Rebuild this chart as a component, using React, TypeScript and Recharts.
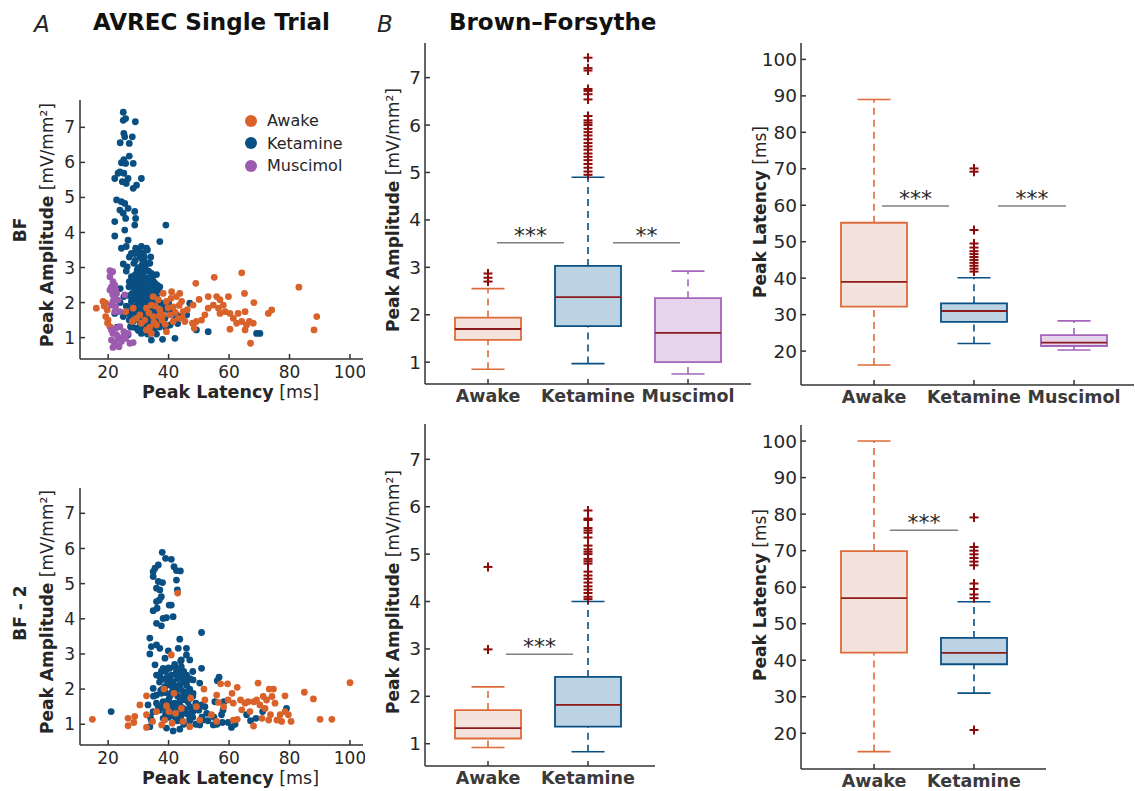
import React from "react"
import {
  ScatterChart,
  Scatter,
  XAxis,
  YAxis,
  ReferenceArea,
  ReferenceLine,
} from "recharts"

const FONT = '"DejaVu Sans", sans-serif'
const TEXT = "#262626"
const AXIS = { stroke: "#333333", strokeWidth: 1.5 }

const AWAKE = "#D9622B"
const KETAMINE = "#0A4F82"
const MUSCIMOL = "#9C5BAF"
const MEDIAN = "#8E1B1B"
const OUTLIER = "#8B0A0A"
const SIG_LINE = "#808080"

// ---- scatter data: [latency ms, amplitude mV/mm²] ----
const bfKetamine = [
  [25, 7.43], [25.8, 7.25], [25, 7.2], [29, 7.16], [25.2, 6.83], [25.5, 6.73], [28, 6.73], [24, 6.56], [27, 6.54],
  [27, 6.18], [25.2, 6.08], [24.4, 5.99], [25.8, 5.97], [28.3, 5.97], [23.9, 5.73], [23.3, 5.69], [22.2, 5.54],
  [25.2, 5.69], [26.6, 5.54], [31, 5.54], [28.3, 5.26], [29.4, 5.35], [26, 5.4], [24.7, 5.45], [22.8, 4.93],
  [24.4, 4.88], [25.5, 4.83], [26.6, 4.69], [23.9, 4.64], [25, 4.55], [25.8, 4.4], [22.2, 4.31], [28.8, 4.6],
  [29.1, 4.4], [39.1, 4.21], [28.8, 4.21], [25.5, 4.07], [22.2, 3.9], [26.6, 3.78], [24.4, 3.55], [29.1, 3.55],
  [37.1, 3.74], [31, 3.6], [32.7, 3.55], [27.7, 3.4], [30.5, 3.31], [31.4, 3.21], [28.5, 3.12], [33.2, 3.12],
  [26.3, 3.02], [29.6, 2.93], [32.1, 2.88], [34.3, 2.83], [27.7, 2.74], [30.3, 2.64], [32.7, 2.6], [35.5, 2.55],
  [26.9, 2.45], [29.3, 2.44], [31.6, 2.36], [33.8, 2.41], [36.6, 2.36], [28, 2.26], [30.5, 2.22], [32.9, 2.17],
  [35.1, 2.26], [37.1, 2.45], [25.2, 2.17], [27.7, 2.03], [29.9, 1.98], [32.1, 1.93], [34.6, 2.03], [37.7, 1.98],
  [29.4, 1.79], [32.7, 1.74], [35.9, 1.69], [27.2, 1.65], [31, 1.55], [34.3, 1.5], [38.8, 1.55], [42.6, 1.65],
  [28.3, 1.46], [32.7, 1.36], [29.4, 1.27], [35.5, 1.27], [39.1, 1.27], [31, 1.12], [34.3, 0.93], [38, 0.95],
  [42.1, 0.98], [49.2, 1.22], [53.1, 1.17], [47, 1.98], [69.1, 1.12], [70.2, 1.12], [25.8, 1.71], [22.2, 1.69],
  [26.6, 1.08], [27.4, 1.31], [39.9, 1.79], [46, 1.65], [40.5, 1.36], [33.8, 3.12], [31.6, 3.4], [28.8, 3.4],
  [28, 2.64], [36, 2.08], [34.9, 1.79], [33.2, 1.6], [30.5, 1.6], [26, 2.9], [27, 2.6], [28, 2.5], [29, 2.8],
  [30, 2.7], [31, 2.9], [32, 3.0], [33, 2.7], [34, 2.5], [30, 2.4], [31, 2.5], [32, 2.3], [33, 2.2], [34, 2.3],
  [35, 2.2], [29, 2.1], [30, 2.0], [31, 2.1], [32, 2.0], [33, 1.9], [34, 1.8], [36, 2.2], [37, 2.0], [28, 1.9],
  [29, 1.7], [30, 1.8], [31, 1.6], [32, 1.5], [33, 1.4], [35, 1.4], [36, 1.5], [37, 1.6], [38, 1.8], [27, 1.5],
  [28, 1.3], [30, 1.2], [31, 1.3], [33, 1.1], [34, 1.2], [36, 1.1], [37, 1.3], [26, 1.9], [27, 2.2], [28, 2.1],
  [29, 2.3], [30, 2.2], [31, 2.35], [32, 2.6], [33, 2.45], [35, 2.6], [36, 2.8], [29, 3.2], [30, 3.0], [31, 3.4],
  [32, 3.3], [33, 3.5], [27, 3.3], [26, 3.6], [25, 3.1], [24, 2.4], [24, 2.0], [25, 1.6], [23, 1.3], [39, 1.9],
  [40, 2.0], [41, 1.7], [42, 1.5], [43, 1.4], [44, 1.6], [30.8, 2.82], [31.8, 2.72], [32.4, 2.95], [33.6, 2.62],
  [34.6, 2.7], [30.2, 2.55], [31.3, 2.62], [32.8, 2.38], [33.9, 2.14], [35.3, 2.38], [36.2, 2.5], [29.6, 2.58],
  [30.9, 2.28], [31.9, 2.15], [32.5, 1.84], [33.7, 2.0], [34.9, 2.1], [35.8, 1.92], [30.4, 1.92], [31.5, 1.86],
  [29.2, 1.55], [30.6, 1.43], [31.8, 1.72], [33.1, 1.25], [34.2, 1.62], [35.4, 1.55], [36.8, 1.42], [38.2, 1.38],
  [27.8, 1.78], [28.7, 2.35], [29.8, 2.46], [31.1, 3.05], [32.2, 3.15], [33.4, 2.9], [34.1, 3.3], [30.1, 3.45],
]

const bfAwake = [
  [16.1, 1.84], [18.3, 2.03], [19.2, 1.98], [19.7, 1.79], [19.2, 1.6], [20, 1.5], [20.6, 1.31], [25.8, 1.74],
  [28.3, 1.84], [29.4, 1.55], [28, 1.46], [30.5, 1.65], [32.1, 1.5], [32.7, 1.84], [34.3, 1.93], [34.9, 2.17],
  [36.6, 2.08], [37.1, 1.79], [38.2, 2.26], [39.3, 2.03], [41, 2.31], [41.5, 1.88], [42.6, 2.17], [43.7, 2.26],
  [44.3, 2.03], [44.8, 1.74], [43.2, 1.55], [45.4, 1.46], [41.5, 1.46], [36, 1.36], [34.3, 1.12], [39.3, 1.17],
  [40.4, 1.65], [38.2, 1.65], [34.9, 1.6], [32.7, 1.22], [31, 1.41], [48.1, 1.93], [49, 2.55], [50.1, 2.09],
  [47.9, 1.41], [49.2, 1.46], [50.9, 1.5], [52, 1.65], [53.1, 2.17], [53.1, 1.84], [54.8, 1.93], [55.1, 2.72],
  [55.9, 2.17], [57, 2.08], [56.5, 1.84], [58.1, 1.93], [57, 1.69], [58.7, 1.74], [59.8, 2.17], [60.3, 1.69],
  [60.3, 1.24], [61.4, 1.55], [62.5, 1.41], [63, 1.69], [64.2, 2.85], [64.2, 1.46], [65.1, 2.26], [65.3, 1.74],
  [65.8, 1.36], [66.7, 1.46], [67.1, 0.84], [68, 1.41], [68.2, 2.0], [65.3, 1.22], [73, 1.69], [74.1, 1.79],
  [83.1, 2.44], [88.1, 1.22], [89, 1.6], [48.5, 1.27], [18.7, 1.9], [19.8, 1.42], [33.5, 1.7], [35.6, 1.9],
  [37.8, 1.5], [39.8, 1.85], [40.8, 2.12], [42.2, 1.72], [43.5, 1.92], [36.9, 1.62], [35.2, 1.44], [33.8, 1.3],
  [38.9, 1.38], [44.6, 1.56], [46.2, 1.8],
]

const bfMuscimol = [
  [20.6, 2.91], [21.5, 2.88], [20.6, 2.74], [21.6, 2.6], [21.1, 2.45], [22.2, 2.5], [20.6, 2.36], [22.5, 2.36],
  [21.5, 2.22], [22.2, 2.12], [22.8, 2.26], [21.6, 2.03], [21.1, 1.93], [22.5, 1.88], [23.3, 2.07], [22.2, 1.74],
  [23.9, 1.74], [25.5, 2.22], [25, 1.03], [21.6, 1.12], [22.5, 1.27], [23.9, 1.31], [21.1, 0.93], [22.2, 0.84],
  [23.3, 0.98], [24.4, 0.89], [25.8, 0.98], [26.6, 1.12], [27.2, 0.84], [28.3, 0.86], [21.6, 0.72], [25.2, 1.17],
  [23.6, 0.74], [22.8, 1.08], [21.1, 1.22],
]

const bf2Ketamine = [
  [37.9, 5.89], [39, 5.72], [40.9, 5.69], [41.8, 5.48], [36.6, 5.53], [35.5, 5.44], [42.6, 5.37], [43.9, 5.36],
  [34.9, 5.34], [34.9, 5.2], [36.6, 5.06], [38, 5.03], [42.6, 5.1], [36, 4.87], [37.1, 4.82], [42.9, 4.82],
  [37.6, 4.63], [36, 4.49], [36.9, 4.53], [40.2, 4.39], [40.9, 4.39], [34.9, 4.23], [36.2, 4.3], [38.2, 4.01],
  [39.3, 4.03], [37.6, 3.8], [41.5, 4.06], [36, 3.87], [50.9, 3.61], [33.8, 3.45], [43.7, 3.42], [34.3, 3.21],
  [36, 3.26], [37.1, 3.16], [39.9, 3.09], [43.2, 3.16], [45.9, 3.16], [33.8, 3.0], [45.9, 2.97], [44.2, 2.83],
  [47, 2.83], [38.8, 2.88], [35.5, 2.69], [38.2, 2.59], [40.4, 2.59], [50.9, 2.59], [42.6, 2.5], [44.8, 2.45],
  [37.1, 2.36], [39.3, 2.31], [41.5, 2.21], [43.7, 2.31], [46.4, 2.26], [48.1, 2.26], [56.7, 2.34], [56.1, 2.24],
  [50.3, 2.17], [34.9, 2.02], [38.8, 2.07], [42.6, 1.98], [44.8, 1.93], [48.1, 1.88], [36, 1.83], [40.4, 1.79],
  [38.2, 1.64], [43.7, 1.64], [46.4, 1.64], [33.2, 1.55], [36.6, 1.5], [41.5, 1.5], [44.8, 1.45], [50.9, 1.55],
  [55.3, 1.64], [58.3, 1.64], [34.9, 1.36], [39.3, 1.36], [44.2, 1.31], [48.1, 1.36], [52.6, 1.31], [57.5, 1.27],
  [34.3, 1.12], [38.2, 1.17], [42.6, 1.12], [47, 1.17], [51.4, 1.12], [54.8, 0.98], [57.8, 1.05], [59.7, 1.05],
  [60.8, 0.91], [65.8, 1.27], [67.1, 1.1], [68.9, 1.17], [71.1, 1.36], [79, 1.45], [21, 1.36], [33.8, 0.93],
  [41.5, 0.81], [43.7, 0.86], [39.3, 0.89], [50.3, 0.98], [48.1, 1.45], [45.2, 1.88], [41.5, 1.88], [37.6, 1.88],
  [43.7, 2.12], [40.4, 2.36], [42.1, 2.64], [44.2, 2.64], [37.6, 2.5], [40, 2.2], [41, 2.4], [42, 2.1], [43, 2.3],
  [44, 2.0], [45, 2.2], [46, 2.4], [47, 2.0], [48, 1.8], [39, 1.9], [40, 1.7], [41, 1.9], [42, 1.6], [43, 1.8],
  [44, 1.5], [45, 1.7], [46, 1.9], [47, 1.5], [49, 1.6], [50, 1.4], [38, 1.5], [39, 1.3], [40, 1.2], [41, 1.4],
  [42, 1.3], [43, 1.1], [44, 1.2], [45, 1.0], [46, 1.3], [47, 1.1], [48, 1.2], [49, 1.0], [51, 1.2], [52, 1.5],
  [53, 1.1], [36, 2.4], [37, 2.2], [38, 2.0], [39, 2.5], [40, 2.6], [42, 2.7], [43, 2.5], [44, 2.8], [45, 2.5],
  [46, 2.1], [47, 2.3], [48, 2.5], [36, 1.6], [37, 1.4], [35, 1.8], [34, 1.2], [55, 1.2], [56, 1.0], [58, 1.4],
  [62, 1.0], [41.3, 2.05], [42.4, 2.42], [43.4, 2.0], [44.5, 2.36], [45.6, 1.82], [40.7, 1.58], [42.8, 1.46],
  [44.1, 1.74], [46.8, 1.72], [39.6, 2.12], [38.5, 2.28], [41.9, 1.22], [45.4, 1.4], [47.6, 1.34], [37.4, 1.96],
]

const bf2Awake = [
  [14.8, 1.14], [26.6, 1.17], [26.6, 0.96], [28.8, 1.22], [28.5, 1.05], [30.5, 1.55], [32.7, 1.27], [32.7, 1.81],
  [32.7, 0.91], [34.7, 1.08], [36, 1.36], [37.7, 0.98], [38.7, 1.12], [39.3, 1.52], [40.1, 1.36], [41.2, 1.03],
  [41.8, 1.88], [42.3, 1.31], [43, 4.73], [40.9, 2.97], [38.5, 2.0], [44.8, 1.08], [47, 0.93], [47.3, 1.74],
  [44.2, 1.45], [49.2, 1.5], [51.7, 2.0], [50.3, 1.12], [52, 1.69], [54.2, 1.27], [55.9, 1.08], [55.9, 1.83],
  [57.2, 2.15], [56.5, 1.62], [58.2, 1.5], [59.5, 2.15], [59.7, 1.69], [61, 1.88], [61.4, 1.6], [62.7, 2.05],
  [62.7, 1.14], [64.2, 1.41], [63.8, 1.69], [65.3, 1.6], [66.9, 1.36], [68.1, 0.95], [68.2, 1.64], [69.6, 2.17],
  [69.1, 1.69], [70.2, 1.55], [71.3, 1.79], [71.9, 1.45], [72.4, 1.69], [73.3, 2.0], [73.7, 1.27], [74.7, 2.0],
  [75.2, 1.6], [74.2, 1.79], [75.8, 1.12], [76.9, 1.27], [77.4, 1.08], [78.5, 1.81], [78.5, 1.36], [79.6, 1.27],
  [80.5, 1.08], [84.9, 1.91], [87.9, 1.72], [90.1, 1.14], [94, 1.14], [100, 2.18], [70.9, 1.17], [73.1, 1.12],
  [66.3, 1.64], [61.4, 1.12],
]

// ---- box plot data ----
const bfCategories = ["Awake", "Ketamine", "Muscimol"]
const bf2Categories = ["Awake", "Ketamine"]

const bfAmpStats = [
  { low: 0.85, q1: 1.47, med: 1.7, q3: 1.94, high: 2.55 },
  { low: 0.97, q1: 1.76, med: 2.37, q3: 3.03, high: 4.9 },
  { low: 0.75, q1: 1.0, med: 1.62, q3: 2.35, high: 2.92 },
]
const bfAmpOutliers = [
  [2.7, 2.78, 2.87],
  [4.95, 5.02, 5.1, 5.18, 5.26, 5.33, 5.4, 5.48, 5.55, 5.62, 5.7, 5.78, 5.85, 5.92, 6.0, 6.05, 6.1, 6.19, 6.54, 6.65, 6.72, 6.76, 7.15, 7.2, 7.42],
  [],
]
const bfAmpSig = [
  { x1: 1.09, x2: 1.76, y: 3.52, label: "***" },
  { x1: 2.25, x2: 2.92, y: 3.52, label: "**" },
]

const bfLatStats = [
  { low: 16.2, q1: 32.2, med: 39, q3: 55.2, high: 89 },
  { low: 22.1, q1: 28, med: 31, q3: 33.1, high: 40.1 },
  { low: 20.3, q1: 21.4, med: 22.3, q3: 24.4, high: 28.3 },
]
const bfLatOutliers = [
  [],
  [41.8, 42.6, 43.4, 44.2, 45, 45.8, 46.6, 47.4, 48.4, 49.5, 53.2, 69.2, 70.1],
  [],
]
const bfLatSig = [
  { x1: 1.08, x2: 1.75, y: 59.8, label: "***" },
  { x1: 2.24, x2: 2.92, y: 59.8, label: "***" },
]

const bf2AmpStats = [
  { low: 0.92, q1: 1.11, med: 1.33, q3: 1.71, high: 2.2 },
  { low: 0.83, q1: 1.36, med: 1.82, q3: 2.41, high: 4.0 },
]
const bf2AmpOutliers = [
  [2.99, 4.73],
  [4.05, 4.1, 4.18, 4.25, 4.32, 4.4, 4.48, 4.55, 4.63, 4.8, 4.85, 4.9, 5.0, 5.05, 5.1, 5.18, 5.35, 5.45, 5.5, 5.55, 5.72, 5.75, 5.92],
]
const bf2AmpSig = [{ x1: 1.18, x2: 1.85, y: 2.89, label: "***" }]

const bf2LatStats = [
  { low: 15, q1: 42.1, med: 57, q3: 69.9, high: 100 },
  { low: 31, q1: 38.9, med: 42, q3: 46.1, high: 56 },
]
const bf2LatOutliers = [
  [],
  [20.9, 57, 58, 59.5, 61, 66, 67, 68, 69, 70, 71, 79.1],
]
const bf2LatSig = [{ x1: 1.16, x2: 1.84, y: 75.6, label: "***" }]

const AMP_TICKS = [1, 2, 3, 4, 5, 6, 7]
const LAT_TICKS = [20, 30, 40, 50, 60, 70, 80, 90, 100]
const SCATTER_X_TICKS = [20, 40, 60, 80, 100]

const GROUP_STYLE = [
  { edge: "#DE6B3A", fill: "#F3E3DC" },
  { edge: KETAMINE, fill: "#BCD3E3" },
  { edge: "#A466B8", fill: "#E6D4EC" },
]

const toPoints = (arr: number[][]) => arr.map(([x, y]) => ({ x, y }))

type Plot = { x0: number; y0: number; x1: number; y1: number }

function frame(plot: Plot, yAxisW: number) {
  const left = plot.x0 - yAxisW
  const top = plot.y0 - 10
  return {
    left,
    top,
    width: Math.min(plot.x1 + 2, 1135) - left,
    height: Math.min(plot.y1 + 35, 791) - top,
  }
}

const dotShape = (color: string) => (p: any) =>
  <circle cx={p.cx} cy={p.cy} r={3.4} fill={color} />

const plusShape = (p: any) => (
  <g stroke={OUTLIER} strokeWidth={2}>
    <line x1={p.cx - 4.5} x2={p.cx + 4.5} y1={p.cy} y2={p.cy} />
    <line x1={p.cx} x2={p.cx} y1={p.cy - 4.5} y2={p.cy + 4.5} />
  </g>
)

const starShape = (p: any) => (
  <text x={p.cx} y={p.cy} textAnchor="middle" fontSize={22} fill={TEXT} fontFamily={FONT}>
    {p.payload.label}
  </text>
)

function ScatterPanel({ plot, yDomain, series }: { plot: Plot; yDomain: number[]; series: { data: number[][]; color: string }[] }) {
  const f = frame(plot, 60)
  const xAxisH = f.height - 10 - (plot.y1 - plot.y0)
  return (
    <div style={{ position: "absolute", left: f.left, top: f.top }}>
      <ScatterChart width={f.width} height={f.height} margin={{ top: 10, right: f.width - 60 - (plot.x1 - plot.x0), bottom: 0, left: 0 }}>
        <XAxis
          type="number"
          dataKey="x"
          domain={[10.7, 104.3]}
          ticks={SCATTER_X_TICKS}
          interval={0}
          allowDataOverflow
          height={xAxisH}
          axisLine={AXIS}
          tickLine={AXIS}
          tickSize={-5}
          tickMargin={12}
          tick={{ fill: TEXT, fontSize: 17, fontFamily: FONT }}
        />
        <YAxis
          type="number"
          dataKey="y"
          domain={yDomain}
          ticks={AMP_TICKS}
          interval={0}
          allowDataOverflow
          width={60}
          axisLine={AXIS}
          tickLine={AXIS}
          tickSize={-5}
          tickMargin={10}
          tick={{ fill: TEXT, fontSize: 17, fontFamily: FONT }}
        />
        {series.map((s, i) => (
          <Scatter key={i} data={toPoints(s.data)} shape={dotShape(s.color)} isAnimationActive={false} />
        ))}
      </ScatterChart>
    </div>
  )
}

type Stat = { low: number; q1: number; med: number; q3: number; high: number }

function BoxPanel({
  plot, xDomain, yDomain, yTicks, categories, stats, outliers, sig,
}: {
  plot: Plot; xDomain: number[]; yDomain: number[]; yTicks: number[]; categories: string[]
  stats: Stat[]; outliers: number[][]; sig: { x1: number; x2: number; y: number; label: string }[]
}) {
  const f = frame(plot, 60)
  const xAxisH = f.height - 10 - (plot.y1 - plot.y0)
  const outlierPts = outliers.flatMap((vals, i) => vals.map((y) => ({ x: i + 1, y })))
  const starPts = sig.map((s) => ({ x: (s.x1 + s.x2) / 2, y: s.y, label: s.label }))
  const hw = 0.33
  const cap = 0.165
  return (
    <div style={{ position: "absolute", left: f.left, top: f.top }}>
      <ScatterChart width={f.width} height={f.height} margin={{ top: 10, right: f.width - 60 - (plot.x1 - plot.x0), bottom: 0, left: 0 }}>
        <XAxis
          type="number"
          dataKey="x"
          domain={xDomain}
          ticks={categories.map((_, i) => i + 1)}
          tickFormatter={(v) => categories[v - 1]}
          interval={0}
          allowDataOverflow
          height={xAxisH}
          axisLine={AXIS}
          tickLine={AXIS}
          tickSize={-5}
          tickMargin={11}
          tick={{ fill: "#3a3a3a", fontSize: 17.5, fontFamily: FONT, fontWeight: "bold" }}
        />
        <YAxis
          type="number"
          dataKey="y"
          domain={yDomain}
          ticks={yTicks}
          interval={0}
          allowDataOverflow
          width={60}
          axisLine={AXIS}
          tickLine={AXIS}
          tickSize={-5}
          tickMargin={9}
          tick={{ fill: TEXT, fontSize: 18.5, fontFamily: FONT }}
        />
        {stats.map((s, i) => {
          const c = i + 1
          const g = GROUP_STYLE[i]
          return [
            <ReferenceLine key={`wl${i}`} segment={[{ x: c, y: s.low }, { x: c, y: s.q1 }]} stroke={g.edge} strokeWidth={1.6} strokeDasharray="7 5" />,
            <ReferenceLine key={`wh${i}`} segment={[{ x: c, y: s.q3 }, { x: c, y: s.high }]} stroke={g.edge} strokeWidth={1.6} strokeDasharray="7 5" />,
            <ReferenceLine key={`cl${i}`} segment={[{ x: c - cap, y: s.low }, { x: c + cap, y: s.low }]} stroke={g.edge} strokeWidth={1.6} />,
            <ReferenceLine key={`ch${i}`} segment={[{ x: c - cap, y: s.high }, { x: c + cap, y: s.high }]} stroke={g.edge} strokeWidth={1.6} />,
            <ReferenceArea key={`bx${i}`} x1={c - hw} x2={c + hw} y1={s.q1} y2={s.q3} fill={g.fill} fillOpacity={1} stroke={g.edge} strokeWidth={1.8} />,
            <ReferenceLine key={`md${i}`} segment={[{ x: c - hw, y: s.med }, { x: c + hw, y: s.med }]} stroke={MEDIAN} strokeWidth={1.8} />,
          ]
        })}
        {sig.map((s, i) => (
          <ReferenceLine key={`sg${i}`} segment={[{ x: s.x1, y: s.y }, { x: s.x2, y: s.y }]} stroke={SIG_LINE} strokeWidth={1.5} />
        ))}
        <Scatter data={outlierPts} shape={plusShape} isAnimationActive={false} />
        <Scatter data={starPts} shape={starShape} isAnimationActive={false} />
      </ScatterChart>
    </div>
  )
}

function VLabel({ x, y, bold, rest }: { x: number; y: number; bold: string; rest: string }) {
  return (
    <div
      style={{
        position: "absolute",
        left: x,
        top: y,
        transform: "translate(-50%, -50%) rotate(-90deg)",
        whiteSpace: "nowrap",
        fontSize: 17,
        color: TEXT,
      }}
    >
      <b>{bold}</b>{rest ? ` ${rest}` : ""}
    </div>
  )
}

function HText({ x, y, children, style }: { x: number; y: number; children: React.ReactNode; style?: React.CSSProperties }) {
  return (
    <div style={{ position: "absolute", left: x, top: y, whiteSpace: "nowrap", color: TEXT, ...style }}>
      {children}
    </div>
  )
}

const legendItems = [
  { name: "Awake", color: AWAKE },
  { name: "Ketamine", color: KETAMINE },
  { name: "Muscimol", color: MUSCIMOL },
]

export default function App() {
  return (
    <div
      style={{
        position: "absolute",
        left: 0,
        top: 0,
        width: 1135,
        height: 791,
        overflow: "hidden",
        background: "#ffffff",
        fontFamily: FONT,
      }}
    >
      <HText x={34} y={11} style={{ fontSize: 23, fontStyle: "italic" }}>A</HText>
      <HText x={93} y={9} style={{ fontSize: 23, fontWeight: "bold", color: "#111" }}>AVREC Single Trial</HText>
      <HText x={377} y={11} style={{ fontSize: 23, fontStyle: "italic" }}>B</HText>
      <HText x={449} y={9} style={{ fontSize: 23, fontWeight: "bold", color: "#111" }}>Brown–Forsythe</HText>

      <ScatterPanel
        plot={{ x0: 80, y0: 100, x1: 363, y1: 359 }}
        yDomain={[0.39, 7.78]}
        series={[
          { data: bfKetamine, color: KETAMINE },
          { data: bfAwake, color: AWAKE },
          { data: bfMuscimol, color: MUSCIMOL },
        ]}
      />
      <ScatterPanel
        plot={{ x0: 80, y0: 488, x1: 363, y1: 745 }}
        yDomain={[0.41, 7.72]}
        series={[
          { data: bf2Ketamine, color: KETAMINE },
          { data: bf2Awake, color: AWAKE },
        ]}
      />

      <BoxPanel
        plot={{ x0: 425, y0: 43, x1: 751, y1: 384 }}
        xDomain={[0.37, 3.63]}
        yDomain={[0.54, 7.73]}
        yTicks={AMP_TICKS}
        categories={bfCategories}
        stats={bfAmpStats}
        outliers={bfAmpOutliers}
        sig={bfAmpSig}
      />
      <BoxPanel
        plot={{ x0: 801, y0: 43, x1: 1134, y1: 385 }}
        xDomain={[0.27, 3.6]}
        yDomain={[10.7, 104.5]}
        yTicks={LAT_TICKS}
        categories={bfCategories}
        stats={bfLatStats}
        outliers={bfLatOutliers}
        sig={bfLatSig}
      />
      <BoxPanel
        plot={{ x0: 425, y0: 424, x1: 655, y1: 766 }}
        xDomain={[0.37, 2.67]}
        yDomain={[0.53, 7.745]}
        yTicks={AMP_TICKS}
        categories={bf2Categories}
        stats={bf2AmpStats}
        outliers={bf2AmpOutliers}
        sig={bf2AmpSig}
      />
      <BoxPanel
        plot={{ x0: 801, y0: 425, x1: 1046, y1: 769 }}
        xDomain={[0.27, 2.72]}
        yDomain={[10.23, 104.4]}
        yTicks={LAT_TICKS}
        categories={bf2Categories}
        stats={bf2LatStats}
        outliers={bf2LatOutliers}
        sig={bf2LatSig}
      />

      {/* legend of the BF scatter */}
      {legendItems.map((it, i) => (
        <div key={it.name} style={{ position: "absolute", left: 245, top: 111 + i * 22.5, display: "flex", alignItems: "center", fontSize: 16, color: TEXT }}>
          <span style={{ width: 12, height: 12, borderRadius: 6, background: it.color, display: "inline-block", marginRight: 10 }} />
          {it.name}
        </div>
      ))}

      {/* axis titles */}
      <VLabel x={47} y={225} bold="Peak Amplitude" rest="[mV/mm²]" />
      <VLabel x={20} y={230} bold="BF" rest="" />
      <HText x={142} y={382} style={{ fontSize: 17.5 }}><b>Peak Latency</b> [ms]</HText>

      <VLabel x={47} y={612} bold="Peak Amplitude" rest="[mV/mm²]" />
      <VLabel x={20} y={613} bold="BF - 2" rest="" />
      <HText x={142} y={768} style={{ fontSize: 17.5 }}><b>Peak Latency</b> [ms]</HText>

      <VLabel x={393} y={210} bold="Peak Amplitude" rest="[mV/mm²]" />
      <VLabel x={760} y={212} bold="Peak Latency" rest="[ms]" />
      <VLabel x={393} y={592} bold="Peak Amplitude" rest="[mV/mm²]" />
      <VLabel x={760} y={595} bold="Peak Latency" rest="[ms]" />
    </div>
  )
}
